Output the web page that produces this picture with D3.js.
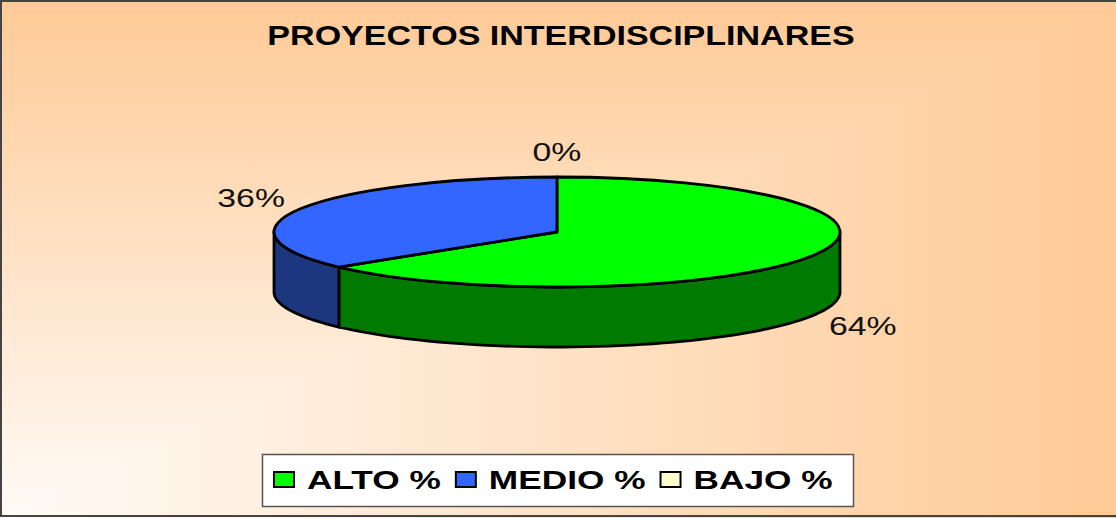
<!DOCTYPE html>
<html>
<head>
<meta charset="utf-8">
<script src="https://cdn.jsdelivr.net/npm/d3@7"></script>
<style>
  html, body { margin: 0; padding: 0; background: #fff; }
  svg { display: block; font-family: Arial, "Liberation Sans", sans-serif; }
</style>
</head>
<body>
<div class="chart"></div>
<script>
// data
var title = "PROYECTOS INTERDISCIPLINARES";
var categories = ["ALTO %", "MEDIO %", "BAJO %"];
var values = [64, 36, 0];
var valueLabels = ["64%", "36%", "0%"];
var topColors = ["#00FF00", "#3366FF", "#FFFFCC"];
var sideColors = ["#007A00", "#1C367F", "#BFBF99"];

var w = 1116, h = 518;
var cx = 557, cy = 232, rx = 283, ry = 55, depth = 60;

var svg = d3.select('.chart').append('svg')
	.attr('width', w)
	.attr('height', h);

var defs = svg.append('defs');

// background: "from corner" gradient, white at bottom-left, peach outward
var peach = "#FFCA96", pale = "#FFFBF7";
var vg = defs.append('linearGradient').attr('id', 'bgV')
	.attr('gradientUnits', 'userSpaceOnUse')
	.attr('x1', 0).attr('y1', h).attr('x2', 0).attr('y2', 0);
vg.append('stop').attr('offset', 0).attr('stop-color', pale);
vg.append('stop').attr('offset', 1).attr('stop-color', peach);
var hg = defs.append('linearGradient').attr('id', 'bgH')
	.attr('gradientUnits', 'userSpaceOnUse')
	.attr('x1', 0).attr('y1', 0).attr('x2', w).attr('y2', 0);
hg.append('stop').attr('offset', 0).attr('stop-color', pale);
hg.append('stop').attr('offset', 1).attr('stop-color', peach);

svg.append('rect')
	.attr('width', w).attr('height', h)
	.attr('fill', 'url(#bgH)');
svg.append('polygon')
	.attr('points', [[0, 0], [w, 0], [0, h]].join(' '))
	.attr('fill', 'url(#bgV)');

svg.append('rect')
	.attr('x', 1).attr('y', 1)
	.attr('width', w + 10).attr('height', h - 3)
	.attr('fill', 'none')
	.attr('stroke', '#444')
	.attr('stroke-width', 2);

// stretch text horizontally (the original image is widened)
var stretch = function(sel, k) {
	sel.each(function() {
		var len = this.getComputedTextLength();
		d3.select(this)
			.attr('textLength', len * k)
			.attr('lengthAdjust', 'spacingAndGlyphs');
	});
};

// title
svg.append('text')
	.attr('x', 561)
	.attr('y', 45)
	.attr('text-anchor', 'middle')
	.style('font-size', '28px')
	.style('font-weight', 'bold')
	.text(title)
	.call(stretch, 1.215);

// pie
var pie = d3.pie().sort(null).value(function(d){ return d; });
var arcsData = pie(values);

var pt = function(a, dy) {
	return [cx + rx * Math.sin(a), cy - ry * Math.cos(a) + dy];
};

var line = d3.line();

// side walls (front half only: angles between PI/2 and 3PI/2)
var walls = svg.append('g');
arcsData.forEach(function(d, i) {
	var a0 = Math.max(d.startAngle, Math.PI / 2);
	var a1 = Math.min(d.endAngle, Math.PI * 1.5);
	if (a1 <= a0) return;
	var steps = d3.range(0, 61).map(function(k){ return a0 + (a1 - a0) * k / 60; });
	var pts = steps.map(function(a){ return pt(a, 0); })
		.concat(steps.slice().reverse().map(function(a){ return pt(a, depth); }));
	walls.append('path')
		.attr('d', line(pts) + 'Z')
		.attr('fill', sideColors[i])
		.attr('stroke', '#000')
		.attr('stroke-width', 2.8)
		.attr('stroke-linejoin', 'round');
});

// top faces
var arc = d3.arc().innerRadius(0).outerRadius(1);
var pieTop = svg.append('g')
	.attr('transform', 'translate(' + cx + ',' + cy + ') scale(' + rx + ',' + ry + ')');
pieTop.selectAll('path')
	.data(arcsData.filter(function(d){ return d.value > 0; }))
	.enter()
	.append('path')
	.attr('d', arc)
	.attr('fill', function(d){ return topColors[d.index]; })
	.attr('stroke', '#000')
	.attr('stroke-width', 2.8)
	.attr('stroke-linejoin', 'round')
	.attr('vector-effect', 'non-scaling-stroke');

// value labels
svg.append('g').selectAll('text')
	.data(arcsData)
	.enter()
	.append('text')
	.attr('x', function(d){
		var m = (d.startAngle + d.endAngle) / 2;
		return cx + (rx + 55) * Math.sin(m);
	})
	.attr('y', function(d){
		var m = (d.startAngle + d.endAngle) / 2;
		return cy - 80 * Math.cos(m) + (Math.cos(m) < 0 ? depth : 0);
	})
	.attr('dy', '0.35em')
	.attr('text-anchor', 'middle')
	.style('font-size', '26px')
	.style('fill', '#111')
	.text(function(d, i){ return valueLabels[i]; })
	.call(stretch, 1.3);

// legend
var legend = svg.append('g');
legend.append('rect')
	.attr('x', 262.5).attr('y', 454.5)
	.attr('width', 591).attr('height', 52)
	.attr('fill', '#fff')
	.attr('stroke', '#555')
	.attr('stroke-width', 1.5);

var lx = 274;
categories.forEach(function(c, i) {
	legend.append('rect')
		.attr('x', lx).attr('y', 472)
		.attr('width', 20).attr('height', 15)
		.attr('fill', topColors[i])
		.attr('stroke', '#000')
		.attr('stroke-width', 2);
	var t = legend.append('text')
		.attr('x', lx + 33)
		.attr('y', 489)
		.style('font-size', '25px')
		.style('font-weight', 'bold')
		.text(c)
		.call(stretch, 1.41);
	lx += 33 + (+t.attr('textLength')) + 15;
});
</script>
</body>
</html>
